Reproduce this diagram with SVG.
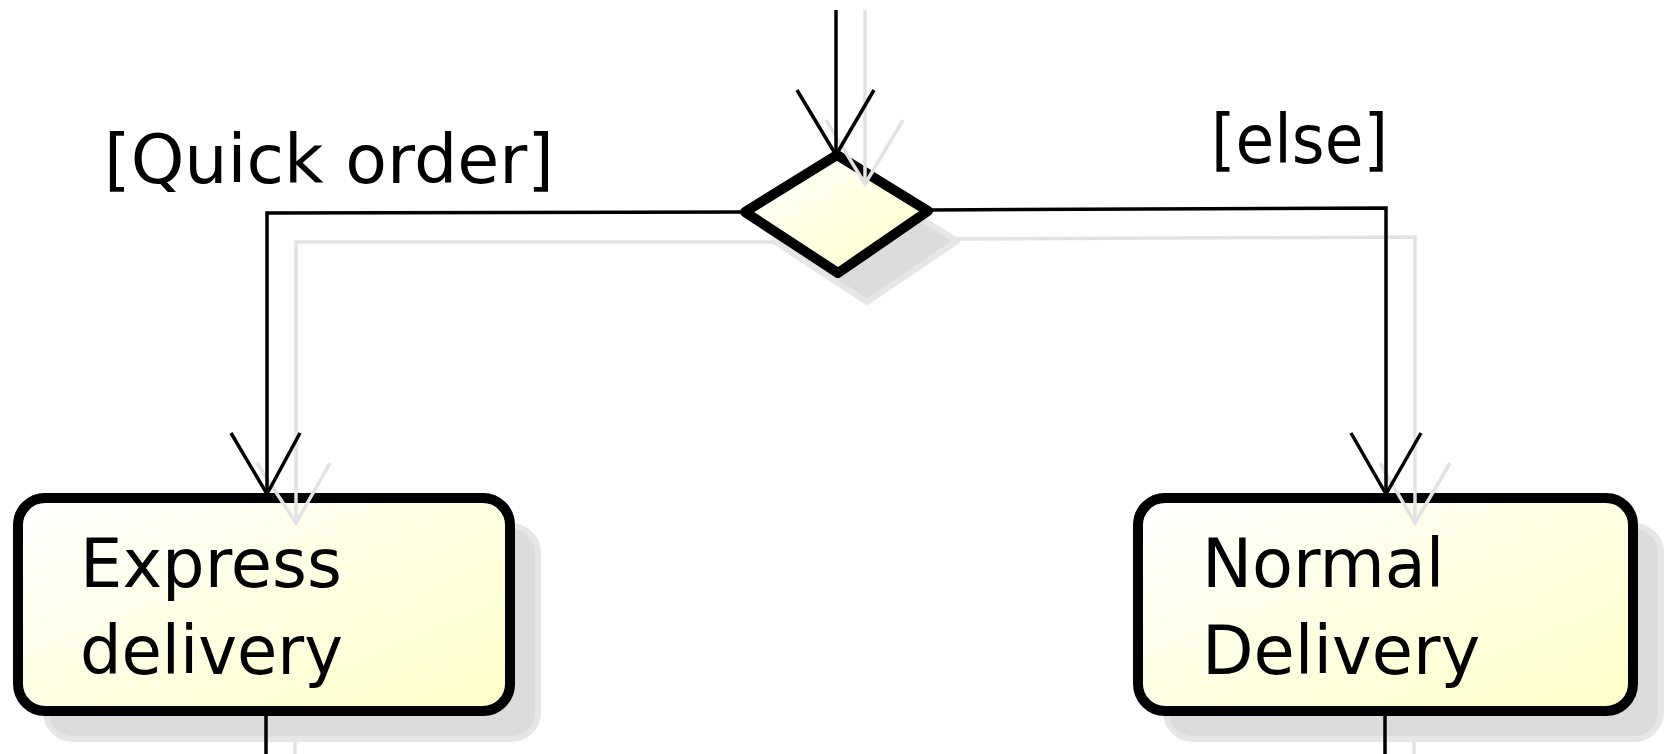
<svg xmlns="http://www.w3.org/2000/svg" width="1665" height="754" viewBox="0 0 1665 754">
<defs>
<linearGradient id="fillg" x1="0" y1="0" x2="1" y2="1">
<stop offset="0" stop-color="#ffffff"/>
<stop offset="1" stop-color="#ffffc8"/>
</linearGradient>
<style>
.node{fill:url(#fillg);stroke:#000;stroke-width:10;stroke-linejoin:round}
.nshadow{fill:#dcdcdc;stroke:#e6e6e6;stroke-width:6;stroke-linejoin:round}
.edge{fill:none;stroke:#000;stroke-width:3.5}
.eshadow{fill:none;stroke:#e2e2e2;stroke-width:3.5}
.lbl{font-family:"DejaVu Sans",sans-serif;font-size:67px;fill:#000}
</style>
</defs>
<rect width="1665" height="754" fill="#fff"/>
<g id="shadows">
<polygon class="nshadow" points="866,184 957,241 867,302 774,241"/>
<rect class="nshadow" x="46" y="526" width="492" height="213" rx="27"/>
<rect class="nshadow" x="1166" y="526" width="495" height="213" rx="27"/>
</g>
<g id="decision">
<polygon class="node" points="837,155 928,211 838,273 745,212"/>
</g>
<g id="express">
<rect class="node" x="18" y="498" width="492" height="213" rx="27"/>
<text class="lbl" x="80" y="587" textLength="262" lengthAdjust="spacingAndGlyphs">Express</text>
<text class="lbl" x="80" y="674" textLength="263" lengthAdjust="spacingAndGlyphs">delivery</text>
</g>
<g id="normal">
<rect class="node" x="1138" y="498" width="495" height="213" rx="27"/>
<text class="lbl" x="1202" y="587">Normal</text>
<text class="lbl" x="1202" y="674">Delivery</text>
</g>
<g id="connectors">
<g id="connector-shadows">
<polyline class="eshadow" points="865,10 865,184"/>
<polyline class="eshadow" points="826,120 865,184 903,120"/>
<polyline class="eshadow" points="774,242 296,242 296,523"/>
<polyline class="eshadow" points="257,463 296,523 330,463"/>
<polyline class="eshadow" points="957,239 1415,237 1415,523"/>
<polyline class="eshadow" points="1380,463 1415,523 1450,463"/>
<line class="eshadow" x1="295" y1="741" x2="295" y2="754"/>
<line class="eshadow" x1="1414" y1="741" x2="1414" y2="754"/>
</g>
<polyline class="edge" points="836,10 836,155"/>
<polyline class="edge" points="797,90 836,155 874,90"/>
<polyline class="edge" points="745,212 267,213 267,494"/>
<polyline class="edge" points="231,433 267,494 300,433"/>
<polyline class="edge" points="928,210 1386,208 1386,494"/>
<polyline class="edge" points="1351,433 1386,494 1421,433"/>
<line class="edge" x1="266" y1="711" x2="266" y2="754"/>
<line class="edge" x1="1385" y1="711" x2="1385" y2="754"/>
<text class="lbl" x="104" y="183" textLength="450" lengthAdjust="spacingAndGlyphs">[Quick order]</text>
<text class="lbl" x="1211" y="163" textLength="177" lengthAdjust="spacingAndGlyphs">[else]</text>
</g>
</svg>
